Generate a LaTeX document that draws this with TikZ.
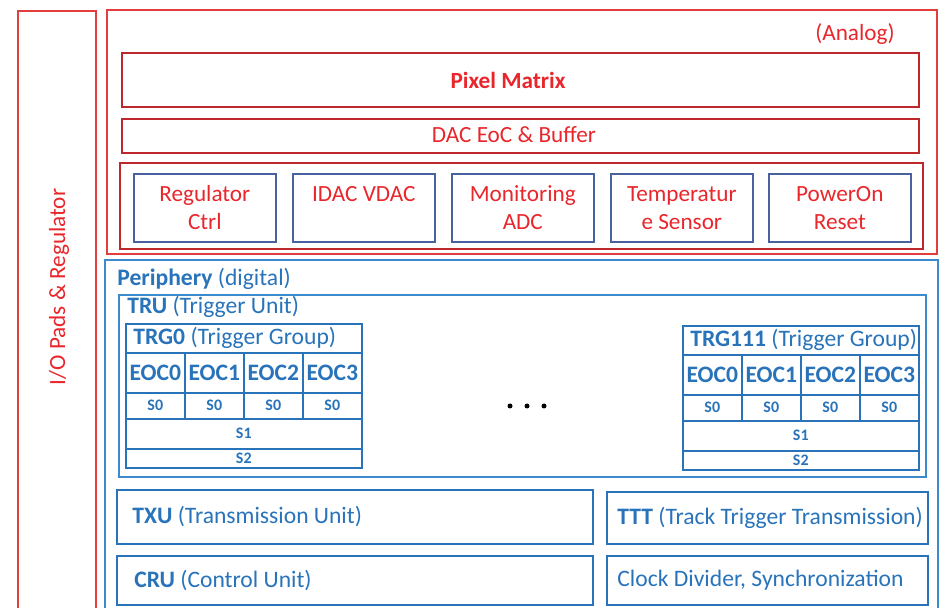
\documentclass[tikz,border=0pt]{standalone}
\usepackage{fontspec}
\setmainfont{Carlito}
\usetikzlibrary{positioning}
\definecolor{anared}{RGB}{232,38,43}
\definecolor{anaframe}{RGB}{226,62,62}
\definecolor{darkframe}{RGB}{190,40,45}
\definecolor{slateframe}{RGB}{72,98,160}
\definecolor{digblue}{RGB}{40,115,185}
\definecolor{digframe}{RGB}{60,140,205}

\begin{document}
\begin{tikzpicture}[x=0.5pt, y=-0.5pt,
  blk/.style={draw, inner sep=0pt, anchor=north west, line width=0.8pt},
  wh/.style 2 args={minimum width=#1*0.5pt, minimum height=#2*0.5pt},
  redtxt/.style={text=anared, align=center, font=\fontsize{11.6}{14}\selectfont},
  bluetxt/.style={text=digblue, inner sep=0pt, font=\fontsize{11.8}{13}\selectfont},
  cell/.style={blk, draw=digblue, text=digblue, font=\fontsize{11.8}{13}\selectfont\bfseries},
  scell/.style={cell, font=\fontsize{8}{9}\selectfont\bfseries}]
  \clip (0,0) rectangle (941,608);

  % I/O ring on the left
  \node[blk, draw=anaframe, wh={78}{620}] (io) at (17,10) {};
  \node[redtxt, rotate=90] (iolbl) at (59,287) {I/O Pads \& Regulator};

  % analog part
  \node[blk, draw=anaframe, line width=1pt, wh={830}{244}] (ana) at (106,9) {};
  \node[redtxt, inner sep=0pt, anchor=base east] (analbl) at (895,41) {(Analog)};
  \node[blk, draw=darkframe, wh={797}{54}] (pix) at (121,52) {};
  \node[redtxt, font=\fontsize{11.6}{14}\selectfont\bfseries] (pixlbl) at (508,80) {Pixel Matrix};
  \node[blk, draw=darkframe, wh={797}{34}] (dac) at (121,118) {};
  \node[redtxt] (daclbl) at (514,135) {DAC EoC \& Buffer};
  \node[blk, draw=darkframe, wh={803}{86}] (anabot) at (119,162) {};
  \foreach \nm/\xx/\txt in {reg/133/{Regulator\\Ctrl}, idac/292/{IDAC VDAC\\~},
      mon/451/{Monitoring\\ADC}, temp/610/{Temperatur\\e Sensor}, por/768/{PowerOn\\Reset}}
    \node[blk, draw=slateframe, wh={142}{68}, redtxt] (\nm) at (\xx,173) {\txt};

  % digital part
  \node[blk, draw=digframe, line width=1pt, wh={833}{360}] (per) at (104,259) {};
  \node[bluetxt, anchor=base west] (perlbl) at (117,286) {\textbf{Periphery} (digital)};
  \node[blk, draw=digframe, wh={807}{182}] (tru) at (118,294) {};
  \node[bluetxt, anchor=base west] (trulbl) at (127,314) {\textbf{TRU} (Trigger Unit)};

  \foreach \g/\gx/\gy in {0/125/323, 111/682/325} {
    \node[cell, wh={236}{29}] (hdr\g) at (\gx,\gy) {};
    \node[bluetxt, right=4pt of hdr\g.west] (hdrlbl\g) {\textbf{TRG\g} (Trigger Group)};
    \foreach \i in {0,...,3} {
      \node[cell, wh={59}{40}] (eoc\g-\i) at ({\gx+59*\i},{\gy+29}) {EOC\i};
      \node[scell, wh={59}{26}] (szero\g-\i) at ({\gx+59*\i},{\gy+69}) {S0};
    }
    \node[scell, wh={236}{30}] (sone\g) at (\gx,{\gy+95}) {S1};
    \node[scell, wh={236}{19}] (stwo\g) at (\gx,{\gy+125}) {S2};
  }
  \foreach \xx in {510,527,544}
    \fill (\xx,406) circle (2.5);

  \node[blk, draw=digblue, wh={476}{54}] (txu) at (116,489) {};
  \node[bluetxt, right=8pt of txu.west] (txulbl) {\textbf{TXU} (Transmission Unit)};
  \node[blk, draw=digblue, wh={476}{49}] (cru) at (116,555) {};
  \node[bluetxt, right=9pt of cru.west] (crulbl) {\textbf{CRU} (Control Unit)};
  \node[blk, draw=digblue, wh={321}{52}] (ttt) at (606,491) {};
  \node[bluetxt, right=5.5pt of ttt.west] (tttlbl) {\textbf{TTT} (Track Trigger Transmission)};
  \node[blk, draw=digblue, wh={321}{49}] (clk) at (606,555) {};
  \node[bluetxt, right=5.5pt of clk.west] (clklbl) {Clock Divider, Synchronization};
\end{tikzpicture}
\end{document}
